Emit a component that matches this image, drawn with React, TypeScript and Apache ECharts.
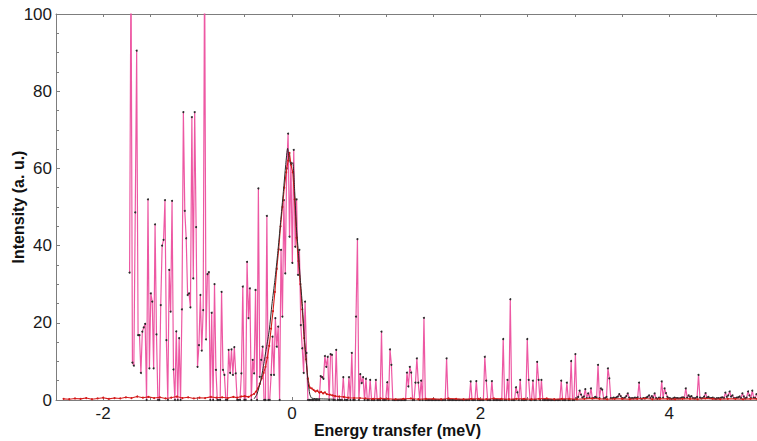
import { useEffect, useRef } from "react";
import * as echarts from "echarts";

// Energy bins of the measured spectrum (meV)
const E_START = -1.72;
const E_STEP = 0.015;

// Measured intensity per bin, in consecutive blocks of bins
const countsA = [
  33, 115, 9.7, 8.9, 48.6, 90.5, 16.8, 16.8, 7, 17.7, 18.8, 19.7, 0, 52, 8.2, 27.6, 25.5, 8.2, 45.5, 17,
  0, 0, 24.6, 40, 41.5, 51.8, 15.5, 0, 33.7, 22.9, 51.6, 7.9, 0, 17.8, 0, 16, 0, 23.5, 74.6, 49,
  41.9, 27.2, 27.6, 24, 73.3, 31.5, 74.6, 44.8, 8.6, 14.2, 27.2, 12.8, 23.3, 115, 15.7, 32.6, 33.1, 0, 22.6, 0,
  30, 7.8, 0, 0, 0, 28, 7.8, 6.5, 0, 0, 13, 7, 13.1, 6.5, 13.7, 6.9, 0, 0, 0, 6.9,
];
const countsB = [
  29.4, 0, 0, 35.8, 21.2, 28.9, 0, 10.4, 6.9, 28.5, 0, 54.8, 6, 10.4, 13.8, 0, 0, 47.7, 0, 0,
  6.5, 16.4, 6.5, 21.2, 13.8, 19, 0, 38.9, 21.6, 51.8, 32.8, 60, 69, 42.3, 61.4, 35.5, 64.8, 39.7, 52, 32.4,
  38.9, 19.4, 13.4, 7, 25.5, 12.2, 0, 0, 0, 0, 0, 0, 0, 0, 0, 6.2, 5.9, 5.5, 11.4, 8.6,
  11.2, 0, 11.9, 11.7, 0, 0, 13, 0, 0, 0, 0, 5.9, 0, 0, 0, 5.9, 0, 12.2, 0, 0,
];
const countsC = [
  21.6, 41.7, 0, 6.7, 4.4, 5.9, 0, 5.5, 0, 0, 5.2, 0, 0, 0, 5.2, 0, 0, 0, 17.7, 0,
  0, 0, 4.6, 0, 13.1, 9.1, 0, 0, 0, 0, 0, 0, 0, 0, 0, 0, 7.1, 3.5, 8.6, 7.1,
  0, 0, 4.5, 10.8, 4.5, 0, 5, 0, 21.3, 0, 0, 0, 0, 0, 0, 0, 0, 0, 0, 0,
  0, 0, 0, 0, 10.8, 0, 0, 0, 0, 0, 0, 0, 0, 0, 0, 0, 0, 0, 0, 0,
];
const countsD = [
  0, 4.8, 0, 0, 0, 4.9, 0, 0, 0, 0, 0, 11.2, 5, 0, 0, 0, 4.9, 0, 0, 0,
  0, 0, 0, 0, 15.8, 0, 0, 5.2, 0, 26.1, 0, 0, 0, 3.3, 2, 0, 5.2, 0, 0, 0,
  0, 15.8, 5.2, 0, 0, 5, 0, 0, 9.9, 5.2, 0, 5.2, 0, 0, 0, 0, 0, 0, 0, 0,
  0, 0, 0, 0, 0, 5, 0, 0, 0, 4.5, 0, 0, 10.1, 0, 0, 11.9, 0.4, 0.8, 2.4, 1.4,
];
const countsE = [
  0.6, 0.9, 2.8, 0.5, 1.7, 0.6, 3, 0.4, 0.5, 0.8, 0.6, 9.1, 0.5, 3, 2.7, 0.4, 0.5, 0.8, 8.2, 5.6,
  0.5, 0.4, 0.6, 0.5, 0.7, 0.9, 1.5, 1, 0.5, 0.4, 0.6, 1, 1.7, 0.6, 0.4, 0.5, 0.4, 0.6, 0.5, 0.7,
  4.5, 0.4, 0.3, 0.5, 0.4, 0.6, 0.8, 1.2, 0.5, 1, 0.6, 1.7, 0.5, 0.3, 0.6, 0.5, 4.8, 0.6, 3, 1.8,
  0.8, 0.5, 0.4, 0.3, 0.4, 0.6, 0.5, 0.5, 0.4, 0.4, 0.6, 0.7, 0.5, 3, 0.6, 1.2, 0.8, 1, 0.5, 0.4,
  0.5, 0.8, 6.5, 0.6, 0.4, 0.5, 0.9, 1.8, 0.6, 0.8, 0.5, 0.5, 0.6, 0.4, 0.3, 0.4, 0.5, 0.4, 0.6, 0.7,
  0.5, 1.9, 0.8, 1.2, 2.2, 0.9, 1.2, 0.5, 0.4, 0.6, 0.7, 0.9, 0.5, 1.7, 0.9, 0.4, 0.6, 2.2, 1.2, 0.5,
  2.4, 0.6, 0.5, 1.5,
];

// Reference measurement: [energy, intensity]
const referencePoints: [number, number][] = [
  [-2.42, 0.3], [-2.36, 0.2], [-2.3, 0.4], [-2.24, 0.3], [-2.18, 0.5], [-2.12, 0.2], [-2.06, 0.4],
  [-2.0, 0.6], [-1.94, 0.3], [-1.88, 0.5], [-1.82, 0.4], [-1.76, 0.7], [-1.7, 0.5], [-1.64, 0.9],
  [-1.58, 0.6], [-1.52, 0.8], [-1.46, 0.5], [-1.4, 0.7], [-1.34, 0.4], [-1.28, 0.6], [-1.22, 0.9],
  [-1.16, 0.5], [-1.1, 0.7], [-1.04, 0.4], [-0.98, 0.6], [-0.92, 0.5], [-0.86, 0.8], [-0.8, 0.6],
  [-0.74, 0.7], [-0.68, 0.5], [-0.62, 0.8], [-0.58, 0.6], [-0.54, 0.9], [-0.5, 1.0], [-0.46, 0.8],
  [-0.43, 1.2], [-0.4, 1.6], [-0.38, 2.2], [-0.36, 3.0], [-0.34, 4.2], [-0.32, 5.6], [-0.3, 7.0],
  [-0.28, 8.6], [-0.26, 11], [-0.24, 14], [-0.22, 18.5], [-0.2, 23], [-0.18, 28], [-0.16, 34],
  [-0.14, 39], [-0.12, 45], [-0.1, 50], [-0.08, 55], [-0.06, 59], [-0.04, 62], [-0.025, 64],
  [-0.01, 61], [0.01, 59], [0.03, 52], [0.05, 42], [0.07, 36], [0.09, 30], [0.11, 23.5], [0.13, 16],
  [0.15, 10.5], [0.17, 5.5], [0.19, 3.2], [0.21, 3.0], [0.23, 2.6], [0.25, 2.2], [0.27, 2.4],
  [0.29, 1.9], [0.31, 2.1], [0.33, 1.7], [0.35, 2.0], [0.37, 1.5], [0.4, 1.4], [0.43, 1.2],
  [0.46, 1.0], [0.5, 0.9], [0.55, 0.8], [0.6, 0.6], [0.66, 0.5], [0.72, 0.5], [0.78, 0.4],
  [0.86, 0.3], [0.94, 0.4], [1.02, 0.3], [1.1, 0.2], [1.18, 0.3], [1.26, 0.4], [1.34, 0.2],
  [1.42, 0.3], [1.5, 0.3], [1.58, 0.2], [1.66, 0.4], [1.74, 0.3], [1.82, 0.2], [1.9, 0.3],
  [1.98, 0.3], [2.06, 0.2], [2.14, 0.4], [2.22, 0.3], [2.3, 0.2], [2.38, 0.3], [2.46, 0.3],
  [2.54, 0.2], [2.62, 0.3], [2.7, 0.4], [2.78, 0.2], [2.86, 0.3], [2.94, 0.3], [3.02, 0.2],
  [3.1, 0.3], [3.18, 0.4], [3.26, 0.3], [3.34, 0.2], [3.42, 0.3], [3.5, 0.3], [3.58, 0.2],
  [3.66, 0.3], [3.74, 0.4], [3.82, 0.2], [3.9, 0.3], [3.98, 0.3], [4.06, 0.2], [4.14, 0.3],
  [4.22, 0.3], [4.3, 0.2], [4.38, 0.4], [4.46, 0.3], [4.54, 0.2], [4.62, 0.3], [4.7, 0.3],
  [4.78, 0.2], [4.86, 0.3], [4.93, 0.3],
];

// Fitted elastic line: [energy, intensity]
const fitPoints: [number, number][] = [
  [-0.4, 0.3], [-0.37, 1.5], [-0.33, 5], [-0.3, 9], [-0.27, 13.5], [-0.24, 18], [-0.21, 25],
  [-0.18, 31], [-0.15, 38], [-0.12, 46], [-0.09, 54], [-0.065, 61], [-0.045, 65.2], [-0.025, 62],
  [-0.005, 61], [0.01, 61.5], [0.03, 54], [0.05, 44], [0.07, 38], [0.09, 31], [0.11, 25],
  [0.13, 17], [0.15, 11], [0.17, 5], [0.19, 1.5], [0.21, 0.5], [0.3, 0.3], [0.45, 0.2],
];

const X_MIN = -2.5;
const X_MAX = 4.93;
const X_LABELS = [-2, 0, 2, 4];
const Y_MAX = 100;

const measured = countsA
  .concat(countsB, countsC, countsD, countsE)
  .map((v, i) => [+(E_START + i * E_STEP).toFixed(3), v]);

const FONT = "Liberation Sans, Arial, Helvetica, sans-serif";
const AXIS_GRAY = "#7d7d7d";

export default function App() {
  const ref = useRef<HTMLDivElement>(null);

  useEffect(() => {
    if (!ref.current) return;
    const chart = echarts.init(ref.current, undefined, { renderer: "svg" });
    const xBase = {
      type: "value" as const,
      min: X_MIN,
      max: X_MAX,
      interval: 0.5,
      splitLine: { show: false },
      axisLine: { show: true, onZero: false, lineStyle: { color: AXIS_GRAY, width: 1 } },
      axisTick: { show: true, inside: true, length: 3, lineStyle: { color: AXIS_GRAY } },
    };
    chart.setOption({
      animation: false,
      backgroundColor: "#ffffff",
      grid: { left: 56, right: 0, top: 14, bottom: 41, containLabel: false, outerBoundsMode: "none" },
      xAxis: [
        {
          ...xBase,
          position: "bottom",
          axisLabel: {
            color: "#1a1a1a",
            fontSize: 17,
            fontFamily: FONT,
            margin: 5,
            formatter: (v: number) =>
              X_LABELS.some((t) => Math.abs(t - v) < 1e-6) ? String(Math.round(v)) : "",
          },
          name: "Energy transfer (meV)",
          nameLocation: "middle",
          nameGap: 22,
          nameMoveOverlap: false,
          nameTextStyle: {
            fontFamily: FONT,
            fontWeight: "bold",
            fontSize: 16,
            color: "#111",
            padding: [0, 18, 0, 0],
          },
        },
        { ...xBase, position: "top", axisLabel: { show: false } },
      ],
      yAxis: {
        type: "value",
        min: 0,
        max: Y_MAX,
        interval: 20,
        splitLine: { show: false },
        axisLine: { show: true, onZero: false, lineStyle: { color: AXIS_GRAY, width: 1 } },
        axisTick: { show: true, inside: true, length: 4, lineStyle: { color: AXIS_GRAY } },
        minorTick: { show: true, splitNumber: 4, length: 3, lineStyle: { color: AXIS_GRAY } },
        axisLabel: { color: "#1a1a1a", fontSize: 17, fontFamily: FONT, margin: 4 },
        name: "Intensity (a. u.)",
        nameLocation: "middle",
        nameRotate: 90,
        nameGap: 30,
        nameMoveOverlap: false,
        nameTextStyle: { fontFamily: FONT, fontWeight: "bold", fontSize: 16, color: "#111" },
      },
      series: [
        {
          type: "line",
          data: measured,
          xAxisIndex: 0,
          showSymbol: true,
          symbol: "circle",
          symbolSize: 2,
          itemStyle: { color: "#2a2a2a", borderWidth: 0 },
          lineStyle: { color: "#ec4f9e", width: 1.2, opacity: 0.95 },
          clip: true,
          z: 2,
        },
        {
          type: "line",
          data: referencePoints,
          xAxisIndex: 0,
          showSymbol: true,
          symbol: "circle",
          symbolSize: 2,
          itemStyle: { color: "#d11a1a", borderWidth: 0 },
          lineStyle: { color: "#d81e1e", width: 1.1 },
          z: 3,
        },
        {
          type: "line",
          data: fitPoints,
          xAxisIndex: 0,
          showSymbol: false,
          smooth: 0.2,
          lineStyle: { color: "#2b2b2b", width: 1 },
          z: 4,
        },
      ],
    });
    return () => chart.dispose();
  }, []);

  return (
    <div
      ref={ref}
      style={{ position: "absolute", left: 0, top: 0, width: 757, height: 441 }}
    />
  );
}
